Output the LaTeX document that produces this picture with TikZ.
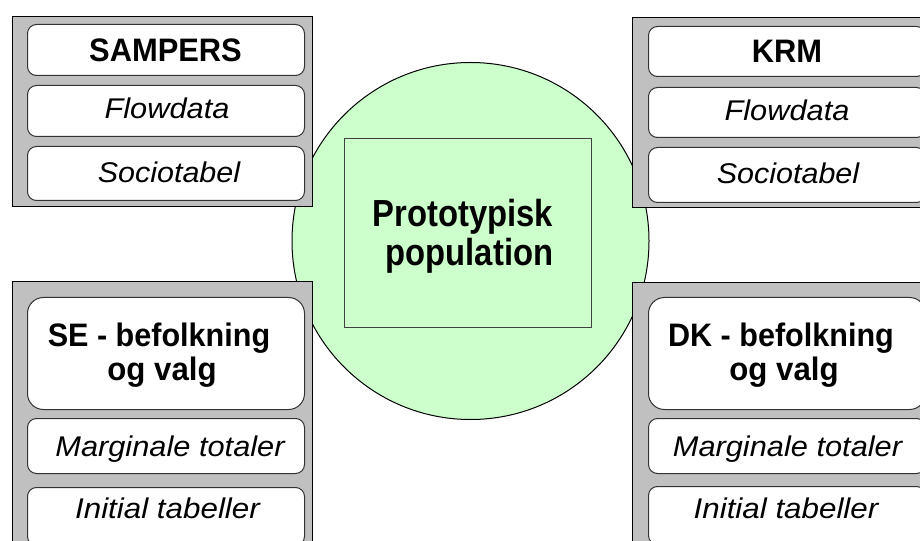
\documentclass[tikz,border=0pt]{standalone}
\usepackage{fontspec}
\usepackage{graphicx}
\setmainfont{Liberation Sans}
\definecolor{panelgray}{HTML}{C0C0C0}
\definecolor{popgreen}{HTML}{CCFFCC}
\definecolor{boxedge}{HTML}{333333}
\definecolor{rectedge}{HTML}{404040}
\newcommand{\hs}[2]{\scalebox{#1}[1]{#2}}
\begin{document}
\begin{tikzpicture}[x=1bp,y=-1bp,
  panel/.style={draw=black,fill=panelgray,line width=1bp,rectangle,inner sep=0pt,anchor=north west,minimum width=300bp},
  smallbox/.style={draw=boxedge,fill=white,line width=1bp,rectangle,rounded corners=9bp,inner sep=0pt,anchor=north west,minimum width=277bp},
  bigbox/.style={smallbox,rounded corners=16bp},
  boldtxt/.style={anchor=base,inner sep=0pt,font=\fontsize{32.5bp}{38bp}\selectfont\bfseries},
  ittxt/.style={anchor=base,inner sep=0pt,font=\fontsize{28.5bp}{34bp}\selectfont\itshape},
  poptxt/.style={anchor=base,inner sep=0pt,font=\fontsize{37.7bp}{42bp}\selectfont\bfseries}
]
\useasboundingbox (0,0) rectangle (920,541);
% central circle and rectangle
\node[circle,draw=black,fill=popgreen,line width=1bp,minimum size=357bp,inner sep=0pt] (pop) at (470.5,241) {};
\node[rectangle,draw=rectedge,fill=popgreen,line width=1bp,anchor=north west,minimum width=247bp,minimum height=189bp,inner sep=0pt] (proto) at (344,138) {};
\node[poptxt] (protoA) at (463,226.7) {\hs{0.87}{Prototypisk}};
\node[poptxt] (protoB) at (469.5,265.3) {\hs{0.87}{population}};

% top-left panel
\node[panel,minimum height=190bp] (tlp) at (12,16) {};
\node[smallbox,minimum height=51bp] (tl1) at (27,24) {};
\node[smallbox,minimum height=51bp] (tl2) at (27,85) {};
\node[smallbox,minimum height=54bp] (tl3) at (27,146) {};
\node[boldtxt] (tl1t) at (165.5,61.5) {\hs{0.95}{SAMPERS}};
\node[ittxt] (tl2t) at (167,119) {\hs{1.08}{Flowdata}};
\node[ittxt] (tl3t) at (169,182.5) {\hs{1.07}{Sociotabel}};

% top-right panel
\node[panel,minimum height=190bp] (trp) at (632,17) {};
\node[smallbox,minimum height=50bp] (tr1) at (648,26) {};
\node[smallbox,minimum height=50bp] (tr2) at (648,87) {};
\node[smallbox,minimum height=55bp] (tr3) at (648,147) {};
\node[boldtxt] (tr1t) at (787,63) {\hs{0.95}{KRM}};
\node[ittxt] (tr2t) at (787,121) {\hs{1.08}{Flowdata}};
\node[ittxt] (tr3t) at (788,184) {\hs{1.07}{Sociotabel}};

% bottom-left panel
\node[panel,minimum height=280bp] (blp) at (12,281) {};
\node[bigbox,minimum height=112bp] (bl1) at (27,297) {};
\node[smallbox,minimum height=55bp] (bl2) at (27,418) {};
\node[smallbox,minimum height=58bp] (bl3) at (27,487) {};
\node[boldtxt] (bl1a) at (159,346.7) {\hs{0.94}{SE - befolkning}};
\node[boldtxt] (bl1b) at (162,380) {\hs{0.96}{og valg}};
\node[ittxt] (bl2t) at (170,456) {\hs{1.08}{Marginale totaler}};
\node[ittxt] (bl3t) at (167.5,518) {\hs{1.1}{Initial tabeller}};

% bottom-right panel
\node[panel,minimum height=280bp] (brp) at (632,282) {};
\node[bigbox,minimum height=112bp] (br1) at (648,297) {};
\node[smallbox,minimum height=55bp] (br2) at (648,418) {};
\node[smallbox,minimum height=58bp] (br3) at (648,486) {};
\node[boldtxt] (br1a) at (781,346.7) {\hs{0.94}{DK - befolkning}};
\node[boldtxt] (br1b) at (784,380) {\hs{0.96}{og valg}};
\node[ittxt] (br2t) at (787.5,456) {\hs{1.08}{Marginale totaler}};
\node[ittxt] (br3t) at (786,518) {\hs{1.1}{Initial tabeller}};
\end{tikzpicture}
\end{document}
